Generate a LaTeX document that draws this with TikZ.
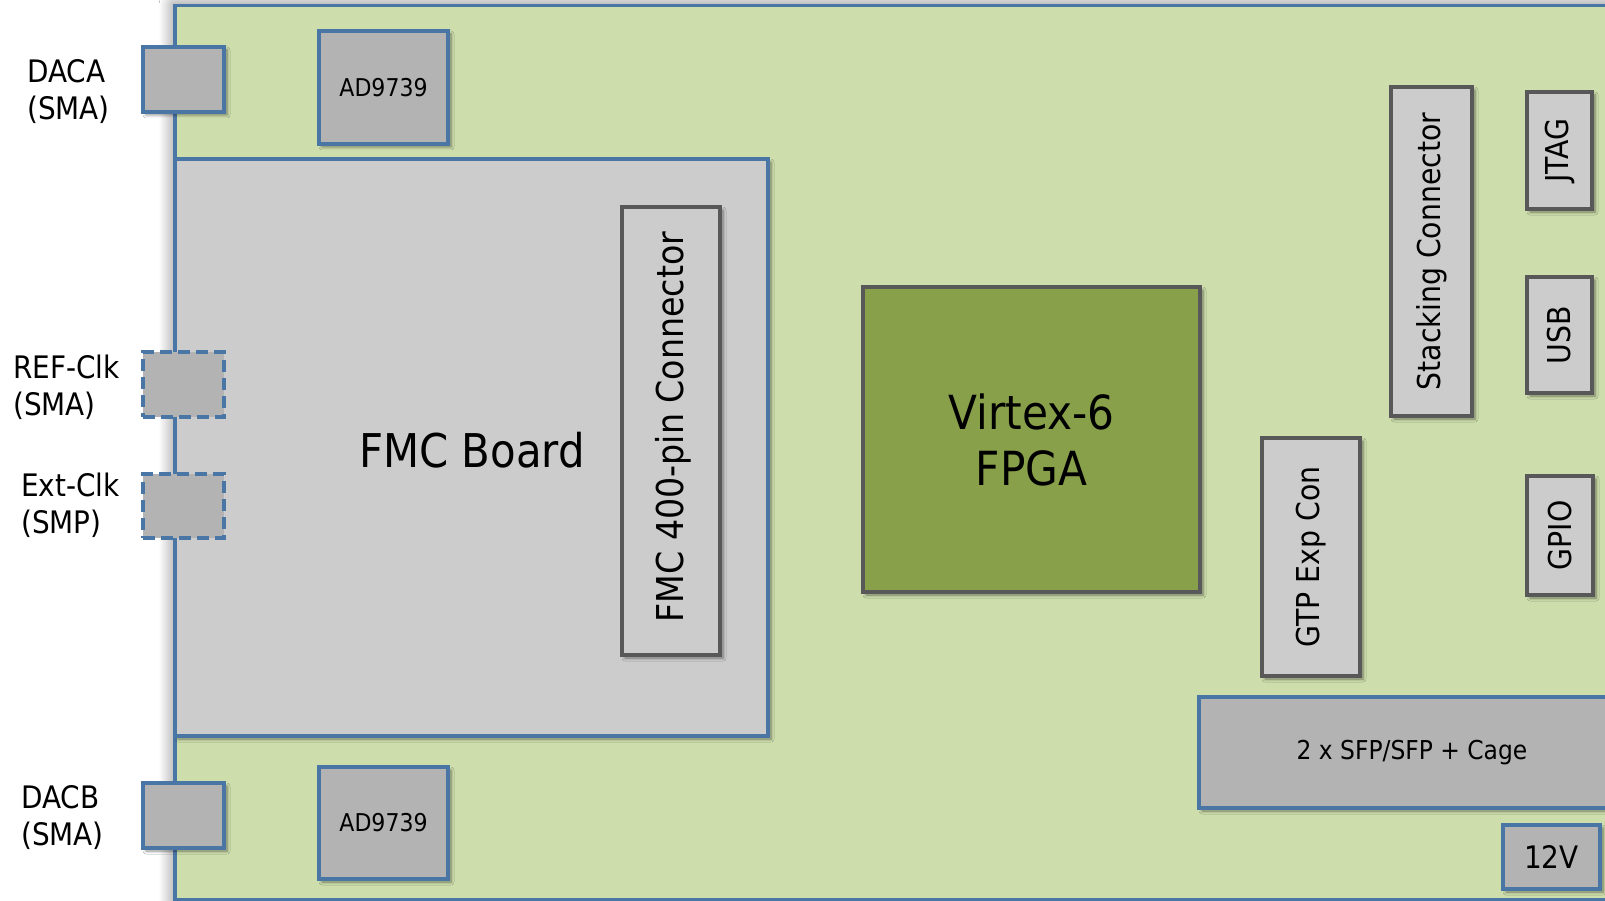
\documentclass[tikz,border=0pt]{standalone}
\usepackage{fontspec}
\setmainfont{DejaVu Sans Condensed}
\usetikzlibrary{shadows,shadows.blur}
\definecolor{boardgreen}{HTML}{CDDDAC}
\definecolor{edgeblue}{HTML}{4A76A6}
\definecolor{edgegray}{HTML}{585858}
\definecolor{boxgray}{HTML}{B3B3B3}
\definecolor{lightgray}{HTML}{CCCCCC}
\definecolor{fpgagreen}{HTML}{89A04A}
\tikzset{
  shad/.style={blur shadow={shadow xshift=3pt,shadow yshift=-3pt,shadow blur radius=3pt,shadow blur steps=6,shadow opacity=45}},
  bluebox/.style={draw=edgeblue,line width=3.3pt,fill=boxgray,inner sep=0pt,shad},
  dashbox/.style={draw=edgeblue,line width=3.6pt,fill=boxgray,inner sep=0pt,dash pattern=on 12pt off 6pt},
  graybox/.style={draw=edgegray,line width=4pt,fill=lightgray,inner sep=0pt,shad},
  lbl/.style={align=left,anchor=west,font=\fontsize{31}{37}\selectfont,inner sep=0pt},
  vtext/.style={rotate=90,font=\fontsize{31.5}{36}\selectfont}
}
\begin{document}
\begin{tikzpicture}[x=1pt,y=-1pt]
\useasboundingbox (0,0) rectangle (1605,901);
\clip (0,0) rectangle (1605,901);
\fill[white] (0,0) rectangle (1605,901);
% main board
\node[draw=edgeblue,line width=3.3pt,fill=boardgreen,inner sep=0pt,minimum width=1450pt,minimum height=894pt,
  blur shadow={shadow xshift=0pt,shadow yshift=0pt,shadow blur radius=16pt,shadow blur steps=12,shadow opacity=55}] (board) at (900,452.5) {};
% FMC board
\node[draw=edgeblue,line width=3.3pt,fill=lightgray,inner sep=0pt,minimum width=593pt,minimum height=577pt,shad] (fmcboard) at (471.5,447.5) {};
\node[font=\fontsize{46.5}{50}\selectfont,anchor=base,inner sep=0pt] (fmcboardtxt) at (472,467) {FMC Board};
\node[graybox,minimum width=98pt,minimum height=448pt] (fmccon) at (671,431) {};
\node[rotate=90,font=\fontsize{37}{40}\selectfont] (fmccontxt) at (673,427) {FMC 400-pin Connector};
% SMA/SMP connectors
\node[bluebox,minimum width=81pt,minimum height=65pt] (daca) at (183.5,79.5) {};
\node[dashbox,minimum width=81pt,minimum height=65pt] (refclk) at (183.5,384.5) {};
\node[dashbox,minimum width=81pt,minimum height=64pt] (extclk) at (183.5,506) {};
\node[bluebox,minimum width=81pt,minimum height=65pt] (dacb) at (183.5,815.5) {};
\node[lbl] (dacalbl) at (27,92) {DACA\\(SMA)};
\node[lbl] (refclklbl) at (13,387.5) {REF-Clk\\(SMA)};
\node[lbl] (extclklbl) at (21,505.5) {Ext-Clk\\(SMP)};
\node[lbl] (dacblbl) at (21,818) {DACB\\(SMA)};
% DACs
\node[bluebox,minimum width=129pt,minimum height=113pt,font=\fontsize{24.5}{28}\selectfont] (ad1) at (383.5,87.5) {AD9739};
\node[bluebox,minimum width=129pt,minimum height=112pt,font=\fontsize{24.5}{28}\selectfont] (ad2) at (383.5,823) {AD9739};
% FPGA
\node[draw=edgegray,line width=4pt,fill=fpgagreen,inner sep=0pt,minimum width=337pt,minimum height=305pt,shad,
  align=center,font=\fontsize{47}{56}\selectfont] (fpga) at (1031.5,439.5) {Virtex-6\\FPGA};
% right side connectors
\node[graybox,minimum width=81pt,minimum height=329pt] (stack) at (1431.5,251.5) {};
\node[vtext] at (stack.center) {Stacking Connector};
\node[graybox,minimum width=65pt,minimum height=117pt] (jtag) at (1559.5,150.5) {};
\node[vtext] at (jtag.center) {JTAG};
\node[graybox,minimum width=65pt,minimum height=116pt] (usb) at (1559.5,335) {};
\node[vtext] at (usb.center) {USB};
\node[graybox,minimum width=66pt,minimum height=119pt] (gpio) at (1560,535.5) {};
\node[vtext] at (gpio.center) {GPIO};
\node[graybox,minimum width=98pt,minimum height=238pt] (gtp) at (1311,557) {};
\node[vtext] at (gtp.center) {GTP Exp Con};
\node[bluebox,minimum width=426pt,minimum height=111pt,font=\fontsize{26}{30}\selectfont] (sfp) at (1412,752.5) {2 x SFP/SFP + Cage};
\node[bluebox,minimum width=97pt,minimum height=64pt,font=\fontsize{31}{34}\selectfont] (v12) at (1551.5,857) {12V};
\end{tikzpicture}
\end{document}
